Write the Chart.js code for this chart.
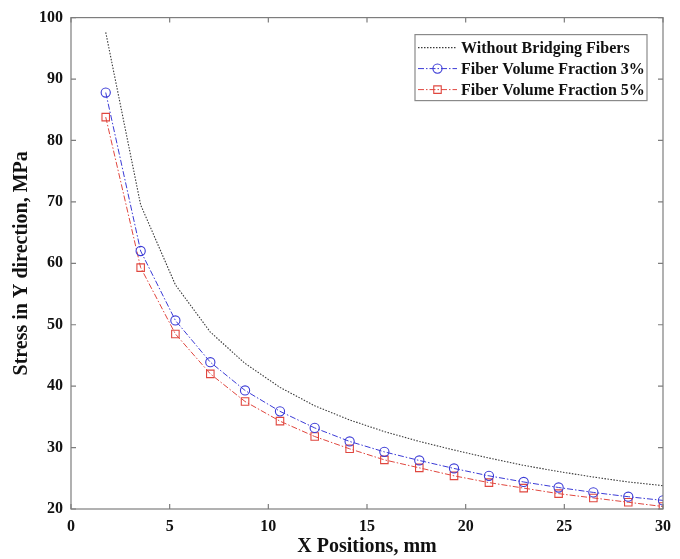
<!DOCTYPE html>
<html>
<head>
<meta charset="utf-8">
<script src="https://cdn.jsdelivr.net/npm/chart.js@4/dist/chart.umd.min.js"></script>
<style>
    html, body { margin: 0; padding: 0; background: #fff; }
    #wrap { width: 680px; height: 559px; }
</style>
</head>
<body>
<div id="wrap"><canvas id="stressChart" width="680" height="559"></canvas></div>
<script>
// X positions along the crack line, mm
const xPositions = [1.76, 3.53, 5.29, 7.06, 8.82, 10.59, 12.35, 14.12, 15.88, 17.65, 19.41, 21.18, 22.94, 24.71, 26.47, 28.24, 30];

// Stress in Y direction, MPa
const stressNoFibers = [97.6, 69.5, 56.5, 48.8, 43.7, 39.8, 36.8, 34.5, 32.6, 31.0, 29.6, 28.3, 27.1, 26.1, 25.2, 24.4, 23.8];
const stressVf3 = [87.8, 62.0, 50.7, 43.9, 39.3, 35.9, 33.2, 31.0, 29.3, 27.9, 26.6, 25.4, 24.4, 23.5, 22.7, 22.0, 21.4];
const stressVf5 = [83.8, 59.3, 48.5, 42.0, 37.5, 34.3, 31.8, 29.8, 28.0, 26.7, 25.4, 24.3, 23.4, 22.5, 21.8, 21.1, 20.4];

const seriesLabels = ['Without Bridging Fibers', 'Fiber Volume Fraction 3%', 'Fiber Volume Fraction 5%'];
const xTicks = [0, 5, 10, 15, 20, 25, 30];
const yTicks = [20, 30, 40, 50, 60, 70, 80, 90, 100];

const SERIF = "'Liberation Serif', 'Times New Roman', serif";

function toPoints(xs, ys) {
    return xs.map((x, i) => ({ x: x, y: ys[i] }));
}

// Box round the plot with inward ticks on all four sides
const boxAxes = {
    id: 'boxAxes',
    afterDatasetsDraw(chart) {
        const { ctx, chartArea: a, scales } = chart;
        const len = 5;
        ctx.save();
        ctx.strokeStyle = '#7d7d7d';
        ctx.lineWidth = 1.2;
        ctx.strokeRect(a.left, a.top, a.right - a.left, a.bottom - a.top);
        ctx.beginPath();
        xTicks.forEach(v => {
            const px = scales.x.getPixelForValue(v);
            ctx.moveTo(px, a.bottom); ctx.lineTo(px, a.bottom - len);
            ctx.moveTo(px, a.top); ctx.lineTo(px, a.top + len);
        });
        yTicks.forEach(v => {
            const py = scales.y.getPixelForValue(v);
            ctx.moveTo(a.left, py); ctx.lineTo(a.left + len, py);
            ctx.moveTo(a.right, py); ctx.lineTo(a.right - len, py);
        });
        ctx.stroke();
        ctx.restore();
    }
};

function drawMarker(ctx, style, x, y, r) {
    ctx.beginPath();
    if (style === 'circle') {
        ctx.arc(x, y, r, 0, Math.PI * 2);
    } else if (style === 'rect') {
        const s = r * Math.SQRT1_2;
        ctx.rect(x - s, y - s, 2 * s, 2 * s);
    }
    ctx.stroke();
}

// Legend box in the upper right corner of the plot
const boxLegend = {
    id: 'boxLegend',
    afterDraw(chart) {
        const { ctx, chartArea: a } = chart;
        const right = a.right - 16;
        const left = a.left + 344;
        const top = a.top + 17;
        const rowH = 21;
        const height = rowH * 3 + 3;
        ctx.save();
        ctx.fillStyle = '#fff';
        ctx.fillRect(left, top, right - left, height);
        ctx.strokeStyle = '#8a8a8a';
        ctx.lineWidth = 1.2;
        ctx.strokeRect(left, top, right - left, height);

        chart.data.datasets.forEach((ds, i) => {
            const cy = top + 13 + i * rowH;
            const x0 = left + 3, x1 = left + 42;
            ctx.strokeStyle = ds.borderColor;
            ctx.lineWidth = ds.borderWidth;
            ctx.setLineDash(ds.borderDash || []);
            ctx.beginPath();
            ctx.moveTo(x0, cy);
            ctx.lineTo(x1, cy);
            ctx.stroke();
            ctx.setLineDash([]);
            if (ds.pointRadius > 0) {
                ctx.lineWidth = ds.pointBorderWidth;
                drawMarker(ctx, ds.pointStyle, (x0 + x1) / 2, cy, ds.pointRadius);
            }
            ctx.fillStyle = '#111';
            ctx.font = 'bold 16px ' + SERIF;
            ctx.textBaseline = 'middle';
            ctx.textAlign = 'left';
            ctx.fillText(ds.label, left + 46, cy + 1);
        });
        ctx.restore();
    }
};

const ctx = document.getElementById('stressChart');

new Chart(ctx, {
    type: 'scatter',
    data: {
        datasets: [
            {
                label: seriesLabels[0],
                data: toPoints(xPositions, stressNoFibers),
                showLine: true,
                borderColor: '#3a3a3a',
                borderWidth: 1.1,
                borderDash: [1.5, 1.5],
                pointRadius: 0,
                pointHoverRadius: 0
            },
            {
                label: seriesLabels[1],
                data: toPoints(xPositions, stressVf3),
                showLine: true,
                borderColor: '#3b3bd6',
                borderWidth: 1,
                borderDash: [6, 2, 1.5, 2],
                pointStyle: 'circle',
                pointRadius: 4.6,
                pointBorderWidth: 1.1,
                pointBorderColor: '#3b3bd6',
                pointBackgroundColor: 'rgba(0,0,0,0)'
            },
            {
                label: seriesLabels[2],
                data: toPoints(xPositions, stressVf5),
                showLine: true,
                borderColor: '#e0473f',
                borderWidth: 1,
                borderDash: [6, 2, 1.5, 2],
                pointStyle: 'rect',
                pointRadius: 5.3,
                pointBorderWidth: 1.1,
                pointBorderColor: '#e0473f',
                pointBackgroundColor: 'rgba(0,0,0,0)'
            }
        ]
    },
    options: {
        responsive: false,
        animation: false,
        layout: {
            padding: { top: 13, right: 17, left: 0, bottom: 0 }
        },
        plugins: {
            legend: { display: false },
            tooltip: { enabled: false }
        },
        scales: {
            x: {
                type: 'linear',
                min: 0,
                max: 30,
                afterBuildTicks: scale => { scale.ticks = xTicks.map(v => ({ value: v })); },
                afterFit: scale => { scale.height = 50; },
                grid: { display: false, drawTicks: false },
                border: { display: false },
                ticks: {
                    padding: 8,
                    color: '#111',
                    font: { family: SERIF, size: 16, weight: 'bold' }
                },
                title: {
                    display: true,
                    text: 'X Positions, mm',
                    color: '#111',
                    padding: { top: 5, bottom: 0 },
                    font: { family: SERIF, size: 20, weight: 'bold' }
                }
            },
            y: {
                type: 'linear',
                min: 20,
                max: 100,
                afterBuildTicks: scale => { scale.ticks = yTicks.map(v => ({ value: v })); },
                afterFit: scale => { scale.width = 71; },
                grid: { display: false, drawTicks: false },
                border: { display: false },
                ticks: {
                    padding: 8,
                    color: '#111',
                    font: { family: SERIF, size: 16, weight: 'bold' }
                },
                title: {
                    display: true,
                    text: 'Stress in Y direction, MPa',
                    color: '#111',
                    padding: { top: 10, bottom: 0 },
                    font: { family: SERIF, size: 20, weight: 'bold' }
                }
            }
        }
    },
    plugins: [boxAxes, boxLegend]
});
</script>
</body>
</html>
